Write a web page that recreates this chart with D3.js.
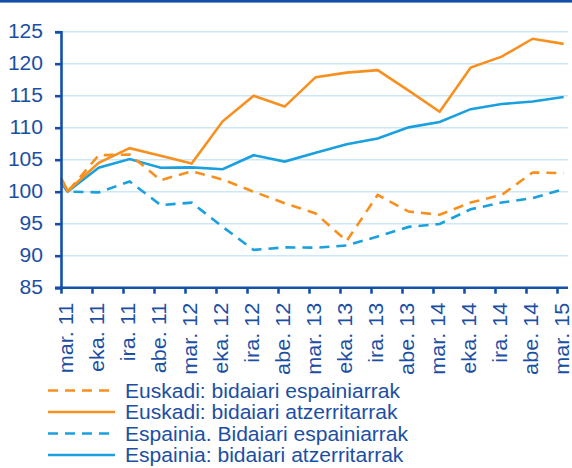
<!DOCTYPE html>
<html>
<head>
<meta charset="utf-8">
<script src="https://cdn.jsdelivr.net/npm/d3@7"></script>
<style>
  html, body { margin: 0; padding: 0; background: #fff; }
  svg { display: block; }
  text { font-family: "Liberation Sans", Arial, sans-serif; fill: #1C4FA3; }
</style>
</head>
<body>
<svg id="chart" width="572" height="468"></svg>
<script>
// ---- data ----
const labels = ["mar. 11","eka. 11","ira. 11","abe. 11","mar. 12","eka. 12","ira. 12","abe. 12",
                "mar. 13","eka. 13","ira. 13","abe. 13","mar. 14","eka. 14","ira. 14","abe. 14","mar. 15"];
const yTicks = [85, 90, 95, 100, 105, 110, 115, 120, 125];
const seriesNames = ["Euskadi: bidaiari espainiarrak", "Euskadi: bidaiari atzerritarrak",
                     "Espainia. Bidaiari espainiarrak", "Espainia: bidaiari atzerritarrak"];
// value at the start of the axis (before first quarter point)
const firstValues = [102.1, 102.2, 101.4, 101.7];
const euskEsp = [100.0, 105.7, 105.8, 101.8, 103.2, 101.9, 100.0, 98.2, 96.6, 92.3, 99.5, 96.9, 96.4, 98.3, 99.5, 103.0, 102.9];
const euskAtz = [100.1, 104.5, 106.8, 105.6, 104.4, 111.0, 115.0, 113.3, 117.9, 118.6, 119.0, 115.8, 112.5, 119.4, 121.1, 123.9, 123.1];
const espEsp  = [100.0, 99.9, 101.6, 97.9, 98.3, 94.5, 90.9, 91.3, 91.25, 91.6, 93.0, 94.5, 94.95, 97.25, 98.3, 99.0, 100.4];
const espAtz  = [100.0, 103.75, 105.1, 103.75, 103.8, 103.5, 105.7, 104.7, 106.1, 107.4, 108.3, 110.05, 110.9, 112.9, 113.7, 114.1, 114.8];

// ---- styles ----
const ORANGE = "#F7901E", BLUE = "#1A9FDF", DARK = "#1450A8", GRID = "#CDE7F5";
const seriesData = [euskEsp, euskAtz, espEsp, espAtz];
const seriesStyle = [
  {color: ORANGE, dash: "10,7"},
  {color: ORANGE, dash: null},
  {color: BLUE, dash: "10,7"},
  {color: BLUE, dash: null}
];

const svg = d3.select("#chart");
const plotLeft = 61, plotBottom = 287.7, plotTop = 31.7;
const step = 31;
const pointOffset = 0.215;   // points sit a bit right of the tick marks
const xEnd = 16.355;
const FS = 19.5, SX = 1.08;

const x = d3.scaleLinear().domain([0, 16]).range([plotLeft, plotLeft + step * 16]);
const y = d3.scaleLinear().domain([85, 125]).range([plotBottom, plotTop]);

// top border
svg.append("rect").attr("x", 0).attr("y", 0).attr("width", 572).attr("height", 2.6).attr("fill", DARK);

// gridlines
svg.append("g").selectAll("line").data(yTicks.filter(v => v > 85)).join("line")
  .attr("x1", plotLeft).attr("x2", x(xEnd))
  .attr("y1", d => y(d)).attr("y2", d => y(d))
  .attr("stroke", GRID).attr("stroke-width", 1.6);

// series lines
const order = [3, 2, 1, 0];
order.forEach(k => {
  const pts = [[0, firstValues[k]]].concat(seriesData[k].map((v, i) => [i + pointOffset, v]));
  const line = d3.line().x(d => x(d[0])).y(d => y(d[1]));
  svg.append("path").attr("d", line(pts))
    .attr("fill", "none")
    .attr("stroke", seriesStyle[k].color)
    .attr("stroke-width", 2.6)
    .attr("stroke-linejoin", "miter")
    .attr("stroke-dasharray", seriesStyle[k].dash);
});

// y axis
const yAxis = d3.axisLeft(y).tickValues(yTicks).tickSize(6).tickPadding(12).tickFormat(d3.format("d"));
const gy = svg.append("g").attr("transform", `translate(${plotLeft},0)`).call(yAxis);
gy.select(".domain").attr("stroke", DARK).attr("stroke-width", 2.6);
gy.selectAll(".tick line").attr("stroke", DARK).attr("stroke-width", 2.6);
gy.selectAll(".tick text")
  .attr("x", 0).attr("transform", `translate(-18,0) scale(${SX},1)`)
  .attr("font-size", FS).attr("fill", "#1C4FA3")
  .attr("font-family", "Liberation Sans, Arial, sans-serif");

// x axis
const xAxis = d3.axisBottom(x).tickValues(d3.range(labels.length)).tickSize(6).tickFormat("");
const gx = svg.append("g").attr("transform", `translate(0,${plotBottom})`).call(xAxis);
gx.select(".domain").attr("d", `M${plotLeft - 6},0H${x(xEnd)}`).attr("stroke", DARK).attr("stroke-width", 2.6);
gx.selectAll(".tick line").attr("stroke", DARK).attr("stroke-width", 2.6);

svg.append("g").selectAll("text").data(labels).join("text")
  .attr("transform", (d, i) => `translate(${x(i + pointOffset) + 5},${plotBottom + 15}) rotate(-90) scale(1.11,1)`)
  .attr("text-anchor", "end")
  .attr("font-size", FS)
  .text(d => d);

// legend
const lg = svg.append("g");
seriesNames.forEach((name, k) => {
  const ly = 390.5 + k * 21.5;
  lg.append("line").attr("x1", 48).attr("x2", 115).attr("y1", ly).attr("y2", ly)
    .attr("stroke", seriesStyle[k].color).attr("stroke-width", 2.6)
    .attr("stroke-dasharray", seriesStyle[k].dash);
  lg.append("text").attr("transform", `translate(125,${ly}) scale(${SX},1)`).attr("dy", "0.36em")
    .attr("font-size", FS).text(name);
});
</script>
</body>
</html>
